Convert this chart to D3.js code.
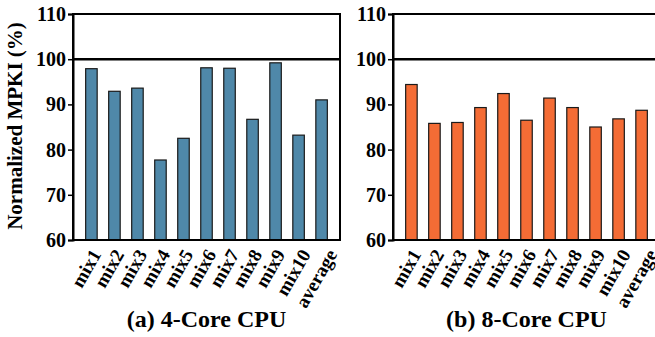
<!DOCTYPE html>
<html>
<head>
<meta charset="utf-8">
<script src="https://cdn.jsdelivr.net/npm/d3@7"></script>
<style>
    body { margin: 0; background: #fff; }
    svg text { font-family: "Liberation Serif", "Times New Roman", serif; font-weight: bold; fill: #000; }
</style>
</head>
<body>
<svg id="chart" width="655" height="337"></svg>
<script>
var categories = ["mix1", "mix2", "mix3", "mix4", "mix5", "mix6", "mix7", "mix8", "mix9", "mix10", "average"];
var core4 = [97.9, 92.9, 93.6, 77.7, 82.5, 98.1, 98.0, 86.7, 99.2, 83.2, 91.0];
var core8 = [94.4, 85.8, 86.0, 89.3, 92.4, 86.5, 91.4, 89.3, 85.0, 86.8, 88.7];
var yTicks = [60, 70, 80, 90, 100, 110];
var titles = ["(a) 4-Core CPU", "(b) 8-Core CPU"];

(function () {
    "use strict";

    var svg = d3.select("#chart"),
        top = 14,
        bottom = 240,
        plotW = 267;

    var y = d3.scaleLinear().domain([60, 110]).range([bottom, top]);

    var drawPanel = function (left, values, color, title) {
        var x = d3.scaleBand()
            .domain(categories)
            .range([left, left + plotW])
            .paddingInner(0.5)
            .paddingOuter(0.55);

        var g = svg.append("g");

        // bars
        g.selectAll("rect.bar")
            .data(values)
            .enter()
            .append("rect")
            .attr("class", "bar")
            .attr("x", function (d, i) { return x(categories[i]); })
            .attr("y", function (d) { return y(d); })
            .attr("width", x.bandwidth())
            .attr("height", function (d) { return y(60) - y(d); })
            .attr("fill", color)
            .attr("stroke", "#1a1a1a")
            .attr("stroke-width", 1.2);

        // frame
        g.append("rect")
            .attr("x", left)
            .attr("y", top)
            .attr("width", plotW)
            .attr("height", bottom - top)
            .attr("fill", "none")
            .attr("stroke", "#000")
            .attr("stroke-width", 2);

        // 100% reference line
        g.append("line")
            .attr("x1", left)
            .attr("x2", left + plotW)
            .attr("y1", y(100))
            .attr("y2", y(100))
            .attr("stroke", "#000")
            .attr("stroke-width", 2.6);

        var axis = g.append("g")
            .attr("transform", "translate(" + left + ",0)")
            .call(d3.axisLeft(y).tickValues(yTicks).tickSize(5).tickPadding(2));
        axis.select(".domain").attr("stroke-width", 2);
        axis.selectAll(".tick line").attr("stroke-width", 1.5);
        axis.selectAll(".tick text")
            .attr("font-size", 20)
            .attr("font-family", null);

        // rotated category labels
        g.selectAll("text.cat")
            .data(categories)
            .enter()
            .append("text")
            .attr("class", "cat")
            .attr("font-size", 19)
            .attr("text-anchor", "middle")
            .attr("dy", "0.32em")
            .text(function (d) { return d; })
            .attr("transform", function (d) {
                var len = this.getComputedTextLength(),
                    h = 13,
                    boxH = len * Math.sin(Math.PI / 3) + h * Math.cos(Math.PI / 3);
                return "translate(" + (x(d) + x.bandwidth() / 2 - 5) + "," + (248 + boxH / 2) + ") rotate(-60)";
            });

        g.append("text")
            .attr("x", left + plotW / 2)
            .attr("y", 327)
            .attr("text-anchor", "middle")
            .attr("font-size", 24)
            .text(title);
    };

    drawPanel(73, core4, "#4f88a9", titles[0]);
    drawPanel(393, core8, "#f46c35", titles[1]);

    svg.append("text")
        .attr("transform", "translate(22,126) rotate(-90)")
        .attr("text-anchor", "middle")
        .attr("font-size", 21)
        .text("Normalized MPKI (%)");
})();
</script>
</body>
</html>
